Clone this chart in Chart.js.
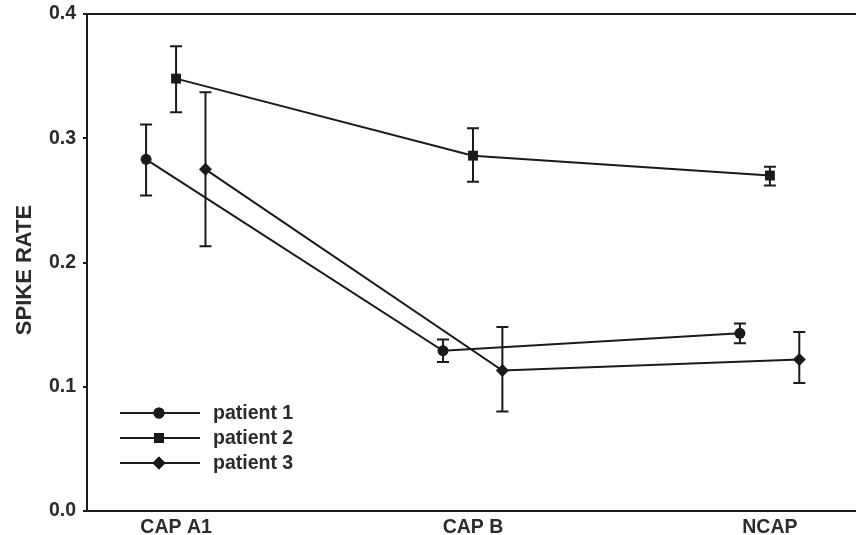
<!DOCTYPE html>
<html>
<head>
<meta charset="utf-8">
<script src="https://cdn.jsdelivr.net/npm/chart.js@4/dist/chart.umd.min.js"></script>
<style>
html, body { margin: 0; padding: 0; background: #fff; }
</style>
</head>
<body>
<canvas id="lineChart" width="856" height="535"></canvas>
<script>
const categories = ['CAP A1', 'CAP B', 'NCAP'];
const patients = ['patient 1', 'patient 2', 'patient 3'];
const yTicks = [0.0, 0.1, 0.2, 0.3, 0.4];

// mean and error bar ends for each patient
const patient1 = [0.283, 0.129, 0.143];
const patient1Low = [0.254, 0.120, 0.135];
const patient1High = [0.311, 0.138, 0.151];

const patient2 = [0.348, 0.286, 0.270];
const patient2Low = [0.321, 0.265, 0.262];
const patient2High = [0.374, 0.308, 0.277];

const patient3 = [0.275, 0.113, 0.122];
const patient3Low = [0.213, 0.080, 0.103];
const patient3High = [0.337, 0.148, 0.144];

const offsets = [-0.101, 0, 0.099];
const markers = ['circle', 'rect', 'rectRot'];
const markerSizes = [5.5, 7, 6.5];
const ink = '#1a1a1a';
const textColor = '#2b2b2b';
const fontFamily = '"Liberation Sans", Arial, Helvetica, sans-serif';

const means = [patient1, patient2, patient3];
const lows = [patient1Low, patient2Low, patient3Low];
const highs = [patient1High, patient2High, patient3High];

const datasets = patients.map((name, i) => ({
    label: name,
    data: means[i].map((v, j) => ({x: j + offsets[i], y: v, lo: lows[i][j], hi: highs[i][j]})),
    borderColor: ink,
    backgroundColor: ink,
    borderWidth: 2,
    pointStyle: markers[i],
    pointRadius: markerSizes[i],
    pointHoverRadius: markerSizes[i],
    pointBorderWidth: 0,
    tension: 0
}));

// error bars drawn under the markers
const errorBars = {
    id: 'errorBars',
    beforeDatasetsDraw(chart) {
        const {ctx, scales: {x, y}} = chart;
        ctx.save();
        ctx.strokeStyle = ink;
        ctx.lineWidth = 2;
        chart.data.datasets.forEach(ds => {
            ds.data.forEach(p => {
                const px = x.getPixelForValue(p.x);
                const top = y.getPixelForValue(p.hi);
                const bot = y.getPixelForValue(p.lo);
                ctx.beginPath();
                ctx.moveTo(px, top);
                ctx.lineTo(px, bot);
                ctx.moveTo(px - 6, top);
                ctx.lineTo(px + 6, top);
                ctx.moveTo(px - 6, bot);
                ctx.lineTo(px + 6, bot);
                ctx.stroke();
            });
        });
        ctx.restore();
    }
};

// top frame line, y title and legend inside the plot
const frameAndLegend = {
    id: 'frameAndLegend',
    afterDraw(chart) {
        const {ctx, chartArea} = chart;
        ctx.save();
        ctx.strokeStyle = ink;
        ctx.lineWidth = 2;
        ctx.beginPath();
        ctx.moveTo(chartArea.left - 1, chartArea.top);
        ctx.lineTo(chartArea.right, chartArea.top);
        ctx.stroke();

        // axis title
        ctx.save();
        ctx.translate(25, 270);
        ctx.rotate(-Math.PI / 2);
        ctx.fillStyle = textColor;
        ctx.font = 'bold 22px ' + fontFamily;
        ctx.textAlign = 'center';
        ctx.textBaseline = 'middle';
        ctx.fillText('SPIKE RATE', 0, 0);
        ctx.restore();

        const rows = [413, 438, 463];
        patients.forEach((name, i) => {
            ctx.strokeStyle = ink;
            ctx.lineWidth = 2;
            ctx.beginPath();
            ctx.moveTo(120, rows[i]);
            ctx.lineTo(200, rows[i]);
            ctx.stroke();
            ctx.fillStyle = ink;
            Chart.helpers.drawPoint(ctx, {pointStyle: markers[i], radius: markerSizes[i], borderWidth: 0}, 159, rows[i]);
            ctx.fill();
            ctx.fillStyle = textColor;
            ctx.font = 'bold 19.5px ' + fontFamily;
            ctx.textBaseline = 'middle';
            ctx.textAlign = 'left';
            ctx.fillText(name, 213, rows[i] + 1);
        });
        ctx.restore();
    }
};

new Chart(document.getElementById('lineChart').getContext('2d'), {
    type: 'line',
    data: {datasets: datasets},
    options: {
        responsive: false,
        animation: false,
        events: [],
        layout: {autoPadding: false, padding: {top: 14, right: 0, left: 0, bottom: 0}},
        plugins: {legend: {display: false}, tooltip: {enabled: false}},
        scales: {
            x: {
                type: 'linear',
                min: -0.30,
                max: 2.29,
                afterFit: s => { s.height = 24; s.paddingLeft = 0; s.paddingRight = 0; },
                afterBuildTicks: s => { s.ticks = categories.map((c, i) => ({value: i})); },
                grid: {display: false, drawTicks: false},
                border: {display: true, color: ink, width: 2},
                ticks: {
                    padding: 5,
                    color: textColor,
                    font: {family: fontFamily, size: 19.5, weight: 'bold'},
                    callback: v => categories[v],
                    maxRotation: 0
                }
            },
            y: {
                min: 0,
                max: 0.4,
                afterFit: s => { s.width = 87; s.paddingTop = 0; s.paddingBottom = 0; },
                afterBuildTicks: s => { s.ticks = yTicks.map(v => ({value: v})); },
                grid: {display: true, drawOnChartArea: false, drawTicks: true, tickLength: 4, color: ink, lineWidth: 2},
                border: {display: true, color: ink, width: 2},
                ticks: {
                    padding: 7,
                    color: textColor,
                    font: {family: fontFamily, size: 19.5, weight: 'bold'},
                    callback: v => v.toFixed(1)
                }
            }
        }
    },
    plugins: [errorBars, frameAndLegend]
});
</script>
</body>
</html>
